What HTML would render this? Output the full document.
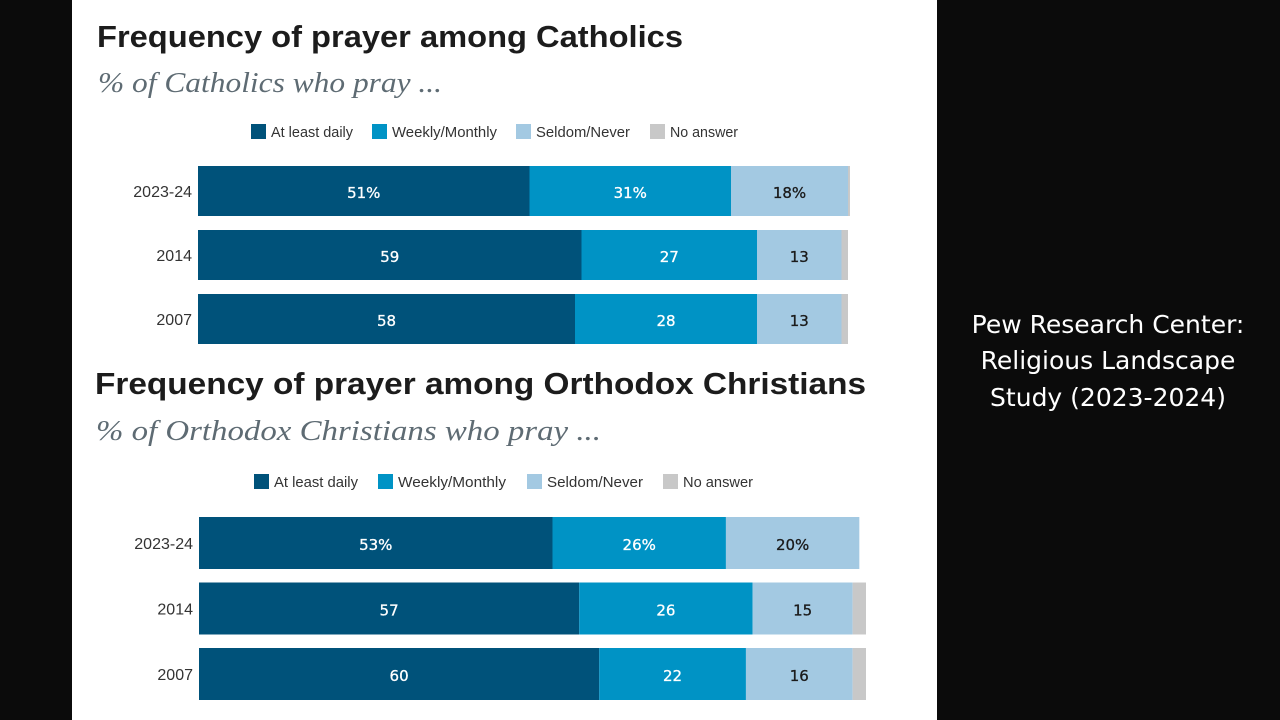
<!DOCTYPE html>
<html><head><meta charset="utf-8"><style>
html,body{margin:0;padding:0;background:#0b0b0b;width:1280px;height:720px;overflow:hidden}
svg{display:block}
</style></head><body>
<svg id="s" width="1280" height="720" xmlns="http://www.w3.org/2000/svg">
<rect x="0" y="0" width="1280" height="720" fill="#0b0b0b"/>
<rect x="72" y="0" width="865" height="720" fill="#ffffff"/>
<g font-family="'DejaVu Sans','Liberation Sans',sans-serif" font-size="25" fill="#ffffff" text-anchor="middle">
<text x="1108" y="333">Pew Research Center:</text>
<text x="1108" y="369">Religious Landscape</text>
<text x="1108" y="406">Study (2023-2024)</text>
</g>
<g id="c1"></g>
<g id="c2"></g>
</svg>
<script>
const categories = ["2023-24", "2014", "2007"];
const seriesNames = ["At least daily", "Weekly/Monthly", "Seldom/Never", "No answer"];
const catholicDaily = [51, 59, 58];
const catholicWeekly = [31, 27, 28];
const catholicSeldom = [18, 13, 13];
const catholicNoAnswer = [0.3, 1, 1];
const catholicLabels = [["51%","31%","18%",""],["59","27","13",""],["58","28","13",""]];
const orthodoxDaily = [53, 57, 60];
const orthodoxWeekly = [26, 26, 22];
const orthodoxSeldom = [20, 15, 16];
const orthodoxNoAnswer = [0, 2, 2];
const orthodoxLabels = [["53%","26%","20%",""],["57","26","15",""],["60","22","16",""]];
const colors = ["#00527a","#0093c5","#a3c9e2","#c8c8c8"];
const textColors = ["#ffffff","#ffffff","#1a1a1a","#1a1a1a"];
const NS = "http://www.w3.org/2000/svg";
function mk(tag, attrs, parent){const e=document.createElementNS(NS,tag);for(const k in attrs)e.setAttribute(k,attrs[k]);parent.appendChild(e);return e;}

function draw(g, cfg){
  const t = mk('text',{x:cfg.x0,y:cfg.titleY,'font-family':"'Liberation Sans Narrow','Liberation Sans',sans-serif",'font-weight':'bold','font-size':31,fill:'#1c1c1c',textLength:cfg.titleW,lengthAdjust:'spacingAndGlyphs'},g);
  t.textContent = cfg.title;
  
  
  const st = mk('text',{x:cfg.x0+1,y:cfg.subY,'font-family':"'Liberation Serif',serif",'font-style':'italic','font-size':29,fill:'#5e6b73',textLength:cfg.subW,lengthAdjust:'spacingAndGlyphs'},g);
  st.textContent = cfg.subtitle;
  
  
  seriesNames.forEach((n,i)=>{
    const lg = mk('g',{},g);
    
    
    mk('rect',{x:cfg.legX[i],y:cfg.legY-7,width:15,height:15,fill:colors[i]},lg);
    const lt = mk('text',{x:cfg.legX[i]+20,y:cfg.legY+6,'font-family':"'Liberation Sans Narrow','Liberation Sans',sans-serif",'font-size':15,fill:'#333',textLength:cfg.legW[i],lengthAdjust:'spacingAndGlyphs'},lg);
    lt.textContent = n;
  });
  const xs = v => v*cfg.scale;
  categories.forEach((c,r)=>{
    const y = cfg.barY0 + r*cfg.step;
    const cl = mk('text',{x:cfg.barX-6,y:y+cfg.barH/2+6,'text-anchor':'end','font-family':"'Liberation Sans Narrow','Liberation Sans',sans-serif",'font-size':16,fill:'#333'},g);
    cl.textContent = c;
    
    
    let x = cfg.barX;
    cfg.series.forEach((arr,i)=>{
      const w = xs(arr[r]);
      if(w<=0) return;
      const b = mk('rect',{x:x,y:y,width:w,height:cfg.barH,fill:colors[i]},g);
      
      
      const lab = cfg.labels[r][i];
      if(lab){
        const tx = mk('text',{x:x+w/2,y:y+cfg.barH/2+7,'text-anchor':'middle','font-family':"'DejaVu Sans','Liberation Sans',sans-serif",'font-size':15,fill:textColors[i],stroke:textColors[i],'stroke-width':0.3},g);
        tx.textContent = lab;
        
        
      }
      x += w;
    });
  });
}
draw(document.getElementById('c1'),{
  title:"Frequency of prayer among Catholics", subtitle:"% of Catholics who pray ...",
  x0:97,titleY:47,titleW:586,subY:92,subW:344,legX:[251,372,516,650],legY:131,legW:[82,105,94,68],
  barX:198,barY0:166,step:64,barH:50,scale:6.5,
  series:[catholicDaily,catholicWeekly,catholicSeldom,catholicNoAnswer],labels:catholicLabels
});
draw(document.getElementById('c2'),{
  title:"Frequency of prayer among Orthodox Christians", subtitle:"% of Orthodox Christians who pray ...",
  x0:95,titleY:394,titleW:771,subY:440,subW:505,legX:[254,378,527,663],legY:481,legW:[84,108,96,70],
  barX:199,barY0:517,step:65.5,barH:52,scale:6.67,
  series:[orthodoxDaily,orthodoxWeekly,orthodoxSeldom,orthodoxNoAnswer],labels:orthodoxLabels
});
</script>
</body></html>
